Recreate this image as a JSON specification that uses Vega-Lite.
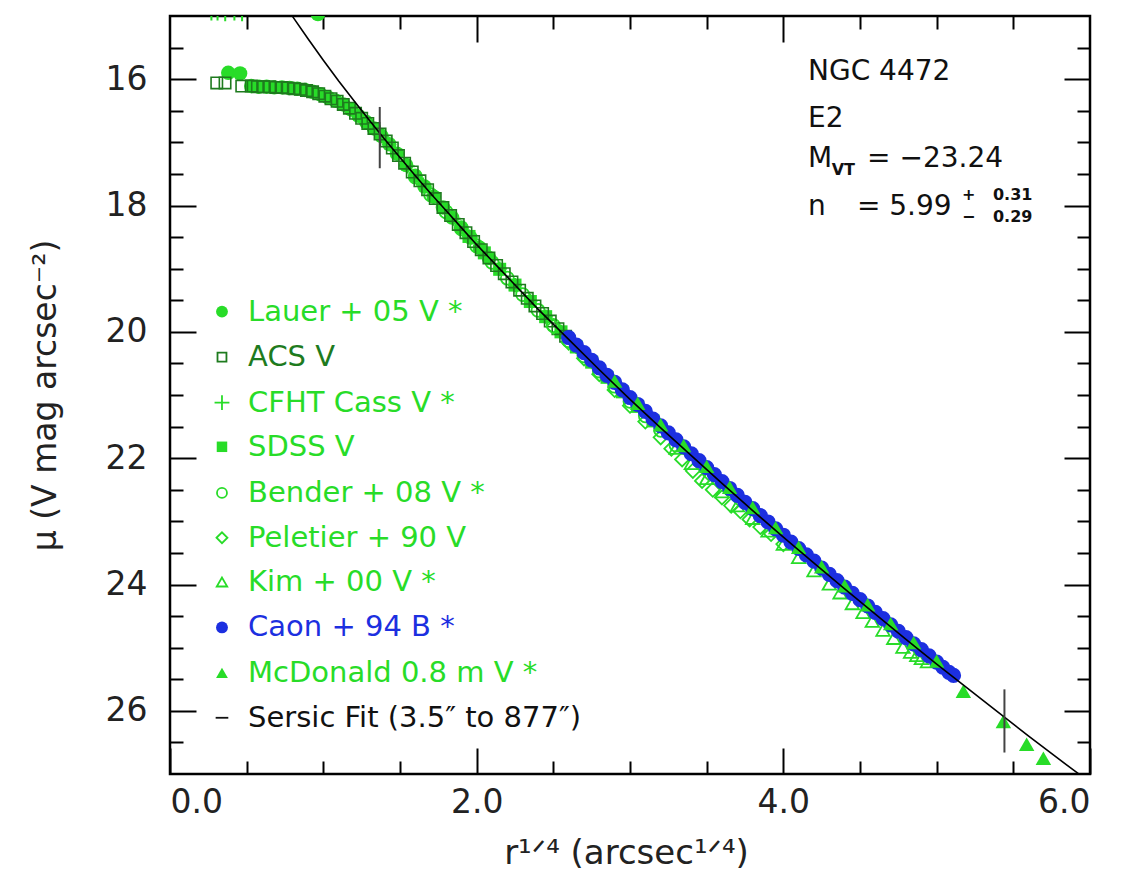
{
  "$schema": "https://vega.github.io/schema/vega-lite/v6.json",
  "width": 920,
  "height": 758,
  "autosize": {"type": "none"},
  "padding": {"left": 170, "top": 16, "right": 35, "bottom": 101},
  "background": "white",
  "config": {
    "view": {"stroke": "black", "strokeWidth": 2.5},
    "axis": {"grid": false, "domain": false, "tickColor": "black", "tickWidth": 2, "tickCap": "butt", "labelFont": "DejaVu Sans", "titleFont": "DejaVu Sans", "labelColor": "#222", "titleColor": "#222", "labelFontSize": 33, "titleFontSize": 30, "titleFontWeight": "normal"},
    "text": {"font": "DejaVu Sans"}
  },
  "datasets": {
    "lauer": [{"x":0.965,"mu":14.97},{"x":0.38,"mu":15.9},{"x":0.457,"mu":15.91},{"x":0.53,"mu":16.11},{"x":0.58,"mu":16.12},{"x":0.63,"mu":16.12},{"x":0.68,"mu":16.13},{"x":0.73,"mu":16.13},{"x":0.78,"mu":16.14},{"x":0.83,"mu":16.15},{"x":0.88,"mu":16.17},{"x":0.93,"mu":16.2},{"x":0.98,"mu":16.24},{"x":1.03,"mu":16.29},{"x":1.08,"mu":16.34},{"x":1.13,"mu":16.4},{"x":1.18,"mu":16.48},{"x":1.23,"mu":16.58},{"x":1.28,"mu":16.68},{"x":1.33,"mu":16.78},{"x":1.38,"mu":16.9},{"x":1.43,"mu":17.03},{"x":1.48,"mu":17.18},{"x":1.54,"mu":17.36},{"x":1.6,"mu":17.53},{"x":1.66,"mu":17.7},{"x":1.72,"mu":17.86},{"x":1.78,"mu":18.03},{"x":1.84,"mu":18.19},{"x":1.9,"mu":18.35},{"x":1.96,"mu":18.51},{"x":2.02,"mu":18.67},{"x":2.08,"mu":18.83}],
    "acs": [{"x":0.305,"mu":16.06},{"x":0.359,"mu":16.06},{"x":0.468,"mu":16.11},{"x":0.53,"mu":16.11},{"x":0.57,"mu":16.12},{"x":0.61,"mu":16.12},{"x":0.65,"mu":16.12},{"x":0.69,"mu":16.13},{"x":0.73,"mu":16.13},{"x":0.77,"mu":16.14},{"x":0.81,"mu":16.15},{"x":0.85,"mu":16.16},{"x":0.89,"mu":16.18},{"x":0.93,"mu":16.2},{"x":0.97,"mu":16.23},{"x":1.01,"mu":16.27},{"x":1.05,"mu":16.31},{"x":1.09,"mu":16.35},{"x":1.13,"mu":16.4},{"x":1.17,"mu":16.46},{"x":1.21,"mu":16.54},{"x":1.25,"mu":16.62},{"x":1.29,"mu":16.7},{"x":1.33,"mu":16.78},{"x":1.37,"mu":16.87},{"x":1.41,"mu":16.98},{"x":1.45,"mu":17.09},{"x":1.49,"mu":17.21},{"x":1.53,"mu":17.33},{"x":1.58,"mu":17.47},{"x":1.63,"mu":17.61},{"x":1.68,"mu":17.75},{"x":1.73,"mu":17.89},{"x":1.78,"mu":18.03},{"x":1.83,"mu":18.16},{"x":1.88,"mu":18.3},{"x":1.93,"mu":18.43},{"x":1.98,"mu":18.57},{"x":2.03,"mu":18.7},{"x":2.08,"mu":18.83},{"x":2.13,"mu":18.95},{"x":2.18,"mu":19.08},{"x":2.23,"mu":19.21},{"x":2.28,"mu":19.34},{"x":2.33,"mu":19.47},{"x":2.38,"mu":19.59},{"x":2.43,"mu":19.71},{"x":2.48,"mu":19.83},{"x":2.53,"mu":19.95},{"x":2.58,"mu":20.07}],
    "cfht": [{"x":0.27,"mu":14.96},{"x":0.31,"mu":14.96},{"x":0.36,"mu":14.97},{"x":0.42,"mu":14.96},{"x":0.47,"mu":14.97},{"x":1.25,"mu":16.62},{"x":1.35,"mu":16.82},{"x":1.45,"mu":17.09},{"x":1.55,"mu":17.38},{"x":1.65,"mu":17.67},{"x":1.75,"mu":17.95},{"x":1.85,"mu":18.21},{"x":1.95,"mu":18.49},{"x":2.05,"mu":18.75},{"x":2.15,"mu":19.0},{"x":2.25,"mu":19.26},{"x":2.35,"mu":19.51},{"x":2.45,"mu":19.76},{"x":2.55,"mu":20.0},{"x":2.65,"mu":20.24},{"x":2.75,"mu":20.48}],
    "sdss": [{"x":1.95,"mu":18.49},{"x":2.05,"mu":18.75},{"x":2.15,"mu":19.01},{"x":2.25,"mu":19.26},{"x":2.35,"mu":19.52},{"x":2.45,"mu":19.76},{"x":2.55,"mu":20.0},{"x":2.65,"mu":20.24},{"x":2.75,"mu":20.48},{"x":2.85,"mu":20.72},{"x":2.95,"mu":20.95},{"x":3.05,"mu":21.18},{"x":3.15,"mu":21.41}],
    "bender": [{"x":1.6,"mu":17.55},{"x":1.7,"mu":17.83},{"x":1.8,"mu":18.1},{"x":1.9,"mu":18.37},{"x":2.0,"mu":18.64},{"x":2.1,"mu":18.9},{"x":2.2,"mu":19.15},{"x":2.3,"mu":19.41},{"x":2.4,"mu":19.66},{"x":2.5,"mu":19.9},{"x":2.6,"mu":20.14},{"x":2.7,"mu":20.38},{"x":2.8,"mu":20.62},{"x":2.9,"mu":20.86},{"x":3.0,"mu":21.1},{"x":3.1,"mu":21.33},{"x":3.2,"mu":21.56},{"x":3.3,"mu":21.79}],
    "peletier": [{"x":2.5,"mu":19.92},{"x":2.6,"mu":20.17},{"x":2.7,"mu":20.42},{"x":2.8,"mu":20.67},{"x":2.9,"mu":20.92},{"x":3.0,"mu":21.17},{"x":3.1,"mu":21.42},{"x":3.2,"mu":21.67},{"x":3.27,"mu":21.85},{"x":3.34,"mu":22.02},{"x":3.41,"mu":22.2},{"x":3.47,"mu":22.36},{"x":3.54,"mu":22.5},{"x":3.6,"mu":22.62},{"x":3.66,"mu":22.75},{"x":3.72,"mu":22.84},{"x":3.78,"mu":22.97},{"x":3.85,"mu":23.09},{"x":3.92,"mu":23.2},{"x":4.0,"mu":23.36}],
    "kim": [{"x":3.3,"mu":21.84},{"x":3.4,"mu":22.08},{"x":3.5,"mu":22.32},{"x":3.6,"mu":22.53},{"x":3.7,"mu":22.75},{"x":3.8,"mu":22.95},{"x":3.9,"mu":23.15},{"x":4.0,"mu":23.36},{"x":4.1,"mu":23.57},{"x":4.2,"mu":23.78},{"x":4.3,"mu":23.99},{"x":4.37,"mu":24.13},{"x":4.45,"mu":24.3},{"x":4.52,"mu":24.44},{"x":4.58,"mu":24.58},{"x":4.65,"mu":24.72},{"x":4.72,"mu":24.85},{"x":4.78,"mu":24.99},{"x":4.83,"mu":25.07},{"x":4.87,"mu":25.12},{"x":4.9,"mu":25.17},{"x":4.94,"mu":25.22}],
    "caon": [{"x":2.6,"mu":20.09},{"x":2.65,"mu":20.21},{"x":2.7,"mu":20.33},{"x":2.75,"mu":20.45},{"x":2.8,"mu":20.57},{"x":2.85,"mu":20.69},{"x":2.9,"mu":20.8},{"x":2.95,"mu":20.92},{"x":3.0,"mu":21.04},{"x":3.05,"mu":21.15},{"x":3.1,"mu":21.26},{"x":3.15,"mu":21.38},{"x":3.2,"mu":21.49},{"x":3.25,"mu":21.6},{"x":3.3,"mu":21.71},{"x":3.35,"mu":21.82},{"x":3.4,"mu":21.93},{"x":3.45,"mu":22.04},{"x":3.5,"mu":22.15},{"x":3.55,"mu":22.26},{"x":3.6,"mu":22.37},{"x":3.65,"mu":22.48},{"x":3.7,"mu":22.59},{"x":3.75,"mu":22.7},{"x":3.8,"mu":22.8},{"x":3.85,"mu":22.91},{"x":3.9,"mu":23.01},{"x":3.95,"mu":23.12},{"x":4.0,"mu":23.22},{"x":4.05,"mu":23.33},{"x":4.1,"mu":23.43},{"x":4.15,"mu":23.53},{"x":4.2,"mu":23.63},{"x":4.25,"mu":23.74},{"x":4.3,"mu":23.84},{"x":4.35,"mu":23.94},{"x":4.4,"mu":24.04},{"x":4.45,"mu":24.14},{"x":4.5,"mu":24.24},{"x":4.55,"mu":24.34},{"x":4.6,"mu":24.44},{"x":4.65,"mu":24.54},{"x":4.7,"mu":24.64},{"x":4.75,"mu":24.74},{"x":4.8,"mu":24.84},{"x":4.85,"mu":24.94},{"x":4.9,"mu":25.03},{"x":4.95,"mu":25.13},{"x":5.0,"mu":25.23},{"x":5.04,"mu":25.31},{"x":5.08,"mu":25.39},{"x":5.11,"mu":25.44}],
    "mcd": [{"x":2.9,"mu":20.78},{"x":3.05,"mu":21.13},{"x":3.2,"mu":21.47},{"x":3.35,"mu":21.8},{"x":3.5,"mu":22.13},{"x":3.65,"mu":22.46},{"x":3.8,"mu":22.78},{"x":3.95,"mu":23.1},{"x":4.1,"mu":23.41},{"x":4.25,"mu":23.72},{"x":4.4,"mu":24.02},{"x":4.55,"mu":24.32},{"x":4.7,"mu":24.62},{"x":4.85,"mu":24.92},{"x":5.0,"mu":25.21},{"x":5.174,"mu":25.69},{"x":5.435,"mu":26.17},{"x":5.587,"mu":26.53},{"x":5.696,"mu":26.75}],
    "fit": [{"x":0.78,"mu":14.94},{"x":0.8,"mu":15.01},{"x":0.9,"mu":15.36},{"x":1.0,"mu":15.7},{"x":1.1,"mu":16.03},{"x":1.2,"mu":16.34},{"x":1.3,"mu":16.65},{"x":1.4,"mu":16.95},{"x":1.5,"mu":17.24},{"x":1.6,"mu":17.53},{"x":1.7,"mu":17.81},{"x":1.8,"mu":18.08},{"x":1.9,"mu":18.35},{"x":2.0,"mu":18.62},{"x":2.2,"mu":19.13},{"x":2.4,"mu":19.64},{"x":2.6,"mu":20.12},{"x":2.8,"mu":20.6},{"x":3.0,"mu":21.07},{"x":3.2,"mu":21.52},{"x":3.4,"mu":21.96},{"x":3.6,"mu":22.4},{"x":3.8,"mu":22.83},{"x":4.0,"mu":23.25},{"x":4.2,"mu":23.66},{"x":4.4,"mu":24.07},{"x":4.6,"mu":24.47},{"x":4.8,"mu":24.87},{"x":5.0,"mu":25.26},{"x":5.2,"mu":25.64},{"x":5.4,"mu":26.02},{"x":5.6,"mu":26.4},{"x":5.8,"mu":26.77},{"x":5.9,"mu":26.95},{"x":5.95,"mu":27.04}],
    "fitmarks": [{"x":1.368,"mu":16.44,"mu2":17.41},{"x":5.442,"mu":25.66,"mu2":26.66}],
    "keyrows": [
      {"key":"Lauer","label":"Lauer + 05 V  *","mu":19.68},
      {"key":"ACS","label":"ACS V","mu":20.4},
      {"key":"CFHT","label":"CFHT Cass V  *","mu":21.12},
      {"key":"SDSS","label":"SDSS V","mu":21.82},
      {"key":"Bender","label":"Bender + 08 V  *","mu":22.55},
      {"key":"Peletier","label":"Peletier + 90 V","mu":23.26},
      {"key":"Kim","label":"Kim + 00 V  *","mu":23.96},
      {"key":"Caon","label":"Caon + 94 B  *","mu":24.68},
      {"key":"McDonald","label":"McDonald 0.8 m V  *","mu":25.4},
      {"key":"Sersic","label":"Sersic Fit (3.5″  to  877″)","mu":26.11}
    ],
    "ann": [{"x":4.161,"mu":16.01,"t":"NGC  4472"},{"x":4.161,"mu":16.76,"t":"E2"},{"x":4.161,"mu":17.39,"t":"M"},{"x":4.546,"mu":17.39,"t":"=  −23.24"},{"x":4.161,"mu":18.15,"t":"n"},{"x":4.48,"mu":18.15,"t":"=  5.99"}],
    "annsmall": [{"x":4.315,"mu":17.52,"t":"VT"},{"x":5.165,"mu":17.91,"t":"+"},{"x":5.367,"mu":17.91,"t":"0.31"},{"x":5.165,"mu":18.26,"t":"−"},{"x":5.367,"mu":18.26,"t":"0.29"}]
  },
  "resolve": {"axis": {"x": "independent", "y": "independent"}},
  "layer": [
    {
      "data": {"name": "lauer"},
      "mark": {"type": "point", "shape": "circle", "filled": true, "color": "#28dc28", "opacity": 1, "size": 210, "clip": true},
      "encoding": {
        "x": {"field": "x", "type": "quantitative", "scale": {"domain": [0, 6], "nice": false, "zero": false}, "axis": {"orient": "top", "values": [2, 4], "labels": false, "tickSize": -26, "title": null}},
        "y": {"field": "mu", "type": "quantitative", "scale": {"domain": [15, 27], "reverse": true, "nice": false, "zero": false}, "axis": {"orient": "right", "values": [16, 18, 20, 22, 24, 26], "labels": false, "tickSize": -26, "title": null}}
      }
    },
    {
      "data": {"name": "cfht"},
      "mark": {"type": "point", "shape": "M-1,0H1M0,-1V1", "filled": false, "color": "#28dc28", "opacity": 1, "size": 200, "strokeWidth": 2, "clip": true},
      "encoding": {
        "x": {"field": "x", "type": "quantitative", "scale": {"domain": [0, 6], "nice": false, "zero": false}, "axis": null},
        "y": {"field": "mu", "type": "quantitative", "scale": {"domain": [15, 27], "reverse": true, "nice": false, "zero": false}, "axis": null}
      }
    },
    {
      "data": {"name": "sdss"},
      "mark": {"type": "point", "shape": "square", "filled": true, "color": "#28dc28", "opacity": 1, "size": 170},
      "encoding": {
        "x": {"field": "x", "type": "quantitative", "scale": {"domain": [0, 6], "nice": false, "zero": false}, "axis": null},
        "y": {"field": "mu", "type": "quantitative", "scale": {"domain": [15, 27], "reverse": true, "nice": false, "zero": false}, "axis": null}
      }
    },
    {
      "data": {"name": "bender"},
      "mark": {"type": "point", "shape": "circle", "filled": false, "color": "#28dc28", "opacity": 1, "size": 170, "strokeWidth": 1.8},
      "encoding": {
        "x": {"field": "x", "type": "quantitative", "scale": {"domain": [0, 6], "nice": false, "zero": false}, "axis": null},
        "y": {"field": "mu", "type": "quantitative", "scale": {"domain": [15, 27], "reverse": true, "nice": false, "zero": false}, "axis": null}
      }
    },
    {
      "data": {"name": "acs"},
      "mark": {"type": "point", "shape": "square", "filled": false, "color": "#1e7b1e", "opacity": 1, "size": 130, "strokeWidth": 1.6},
      "encoding": {
        "x": {"field": "x", "type": "quantitative", "scale": {"domain": [0, 6], "nice": false, "zero": false}, "axis": {"orient": "top", "values": [0.5, 1, 1.5, 2.5, 3, 3.5, 4.5, 5, 5.5], "labels": false, "tickSize": -13, "title": null}},
        "y": {"field": "mu", "type": "quantitative", "scale": {"domain": [15, 27], "reverse": true, "nice": false, "zero": false}, "axis": {"orient": "right", "values": [15.5, 16.5, 17, 17.5, 18.5, 19, 19.5, 20.5, 21, 21.5, 22.5, 23, 23.5, 24.5, 25, 25.5, 26.5], "labels": false, "tickSize": -13, "title": null}}
      }
    },
    {
      "data": {"name": "peletier"},
      "mark": {"type": "point", "shape": "diamond", "filled": false, "color": "#28dc28", "opacity": 1, "size": 200, "strokeWidth": 1.8},
      "encoding": {
        "x": {"field": "x", "type": "quantitative", "scale": {"domain": [0, 6], "nice": false, "zero": false}, "axis": null},
        "y": {"field": "mu", "type": "quantitative", "scale": {"domain": [15, 27], "reverse": true, "nice": false, "zero": false}, "axis": null}
      }
    },
    {
      "data": {"name": "kim"},
      "mark": {"type": "point", "shape": "triangle-up", "filled": false, "color": "#28dc28", "opacity": 1, "size": 180, "strokeWidth": 1.8},
      "encoding": {
        "x": {"field": "x", "type": "quantitative", "scale": {"domain": [0, 6], "nice": false, "zero": false}, "axis": null},
        "y": {"field": "mu", "type": "quantitative", "scale": {"domain": [15, 27], "reverse": true, "nice": false, "zero": false}, "axis": null}
      }
    },
    {
      "data": {"name": "caon"},
      "mark": {"type": "point", "shape": "circle", "filled": true, "color": "#1c2fe0", "opacity": 1, "size": 230},
      "encoding": {
        "x": {"field": "x", "type": "quantitative", "scale": {"domain": [0, 6], "nice": false, "zero": false}, "axis": null},
        "y": {"field": "mu", "type": "quantitative", "scale": {"domain": [15, 27], "reverse": true, "nice": false, "zero": false}, "axis": null}
      }
    },
    {
      "data": {"name": "mcd"},
      "mark": {"type": "point", "shape": "triangle-up", "filled": true, "color": "#28dc28", "opacity": 1, "size": 240},
      "encoding": {
        "x": {"field": "x", "type": "quantitative", "scale": {"domain": [0, 6], "nice": false, "zero": false}, "axis": null},
        "y": {"field": "mu", "type": "quantitative", "scale": {"domain": [15, 27], "reverse": true, "nice": false, "zero": false}, "axis": null}
      }
    },
    {
      "data": {"name": "fit"},
      "mark": {"type": "line", "color": "black", "strokeWidth": 1.6, "clip": true},
      "encoding": {
        "x": {"field": "x", "type": "quantitative", "scale": {"domain": [0, 6], "nice": false, "zero": false}, "axis": {"orient": "bottom", "values": [0, 2, 4, 6], "format": ".1f", "tickSize": -26, "labelPadding": 38, "title": "r¹ᐟ⁴  (arcsec¹ᐟ⁴)", "titleX": 456, "titleY": 89, "titleBaseline": "alphabetic", "titleFontSize": 34}},
        "y": {"field": "mu", "type": "quantitative", "scale": {"domain": [15, 27], "reverse": true, "nice": false, "zero": false}, "axis": {"orient": "left", "values": [16, 18, 20, 22, 24, 26], "tickSize": -26, "labelPadding": 49, "title": "μ (V mag arcsec⁻²)", "titleX": -115, "titleY": 379, "titleAngle": -90, "titleBaseline": "alphabetic", "titleFontSize": 33}}
      }
    },
    {
      "data": {"name": "fitmarks"},
      "mark": {"type": "rule", "color": "#444", "strokeWidth": 2},
      "encoding": {
        "x": {"field": "x", "type": "quantitative", "scale": {"domain": [0, 6], "nice": false, "zero": false}, "axis": {"orient": "bottom", "values": [0.5, 1, 1.5, 2.5, 3, 3.5, 4.5, 5, 5.5], "labels": false, "tickSize": -13, "title": null}},
        "y": {"field": "mu", "type": "quantitative", "scale": {"domain": [15, 27], "reverse": true, "nice": false, "zero": false}, "axis": {"orient": "left", "values": [15.5, 16.5, 17, 17.5, 18.5, 19, 19.5, 20.5, 21, 21.5, 22.5, 23, 23.5, 24.5, 25, 25.5, 26.5], "labels": false, "tickSize": -13, "title": null}},
        "y2": {"field": "mu2"}
      }
    },
    {
      "data": {"name": "keyrows"},
      "transform": [{"filter": {"field": "key", "oneOf": ["Lauer", "SDSS", "Caon", "McDonald"]}}],
      "mark": {"type": "point", "filled": true, "opacity": 1},
      "encoding": {
        "x": {"datum": 0.339, "type": "quantitative", "scale": {"domain": [0, 6], "nice": false, "zero": false}, "axis": null},
        "y": {"field": "mu", "type": "quantitative", "scale": {"domain": [15, 27], "reverse": true, "nice": false, "zero": false}, "axis": null},
        "shape": {"field": "key", "type": "nominal", "legend": null, "scale": {"domain": ["Lauer","ACS","CFHT","SDSS","Bender","Peletier","Kim","Caon","McDonald","Sersic"], "range": ["circle","square","M-1,0H1M0,-1V1","square","circle","diamond","triangle-up","circle","triangle-up","stroke"]}},
        "size": {"field": "key", "type": "nominal", "legend": null, "scale": {"type": "ordinal", "domain": ["Lauer","ACS","CFHT","SDSS","Bender","Peletier","Kim","Caon","McDonald","Sersic"], "range": [140, 80, 220, 110, 100, 120, 110, 140, 140, 160]}},
        "color": {"field": "key", "type": "nominal", "legend": null, "scale": {"domain": ["Lauer","ACS","CFHT","SDSS","Bender","Peletier","Kim","Caon","McDonald","Sersic"], "range": ["#28dc28","#1e7b1e","#28dc28","#28dc28","#28dc28","#28dc28","#28dc28","#1c2fe0","#28dc28","#111111"]}}
      }
    },
    {
      "data": {"name": "keyrows"},
      "transform": [{"filter": {"field": "key", "oneOf": ["ACS", "CFHT", "Bender", "Peletier", "Kim", "Sersic"]}}],
      "mark": {"type": "point", "filled": false, "opacity": 1, "strokeWidth": 1.8},
      "encoding": {
        "x": {"datum": 0.339, "type": "quantitative", "scale": {"domain": [0, 6], "nice": false, "zero": false}, "axis": null},
        "y": {"field": "mu", "type": "quantitative", "scale": {"domain": [15, 27], "reverse": true, "nice": false, "zero": false}, "axis": null},
        "shape": {"field": "key", "type": "nominal", "legend": null, "scale": {"domain": ["Lauer","ACS","CFHT","SDSS","Bender","Peletier","Kim","Caon","McDonald","Sersic"], "range": ["circle","square","M-1,0H1M0,-1V1","square","circle","diamond","triangle-up","circle","triangle-up","stroke"]}},
        "size": {"field": "key", "type": "nominal", "legend": null, "scale": {"type": "ordinal", "domain": ["Lauer","ACS","CFHT","SDSS","Bender","Peletier","Kim","Caon","McDonald","Sersic"], "range": [140, 80, 220, 110, 100, 120, 110, 140, 140, 160]}},
        "color": {"field": "key", "type": "nominal", "legend": null, "scale": {"domain": ["Lauer","ACS","CFHT","SDSS","Bender","Peletier","Kim","Caon","McDonald","Sersic"], "range": ["#28dc28","#1e7b1e","#28dc28","#28dc28","#28dc28","#28dc28","#28dc28","#1c2fe0","#28dc28","#111111"]}}
      }
    },
    {
      "data": {"name": "keyrows"},
      "mark": {"type": "text", "align": "left", "baseline": "middle", "fontSize": 29, "font": "DejaVu Sans"},
      "encoding": {
        "x": {"datum": 0.509, "type": "quantitative", "scale": {"domain": [0, 6], "nice": false, "zero": false}, "axis": null},
        "y": {"field": "mu", "type": "quantitative", "scale": {"domain": [15, 27], "reverse": true, "nice": false, "zero": false}, "axis": null},
        "text": {"field": "label"},
        "color": {"field": "key", "type": "nominal", "legend": null, "scale": {"domain": ["Lauer","ACS","CFHT","SDSS","Bender","Peletier","Kim","Caon","McDonald","Sersic"], "range": ["#28dc28","#1e7b1e","#28dc28","#28dc28","#28dc28","#28dc28","#28dc28","#1c2fe0","#28dc28","#111111"]}}
      }
    },
    {
      "data": {"name": "ann"},
      "mark": {"type": "text", "align": "left", "baseline": "alphabetic", "fontSize": 28, "font": "DejaVu Sans", "color": "#111"},
      "encoding": {
        "x": {"field": "x", "type": "quantitative", "scale": {"domain": [0, 6], "nice": false, "zero": false}, "axis": null},
        "y": {"field": "mu", "type": "quantitative", "scale": {"domain": [15, 27], "reverse": true, "nice": false, "zero": false}, "axis": null},
        "text": {"field": "t"}
      }
    },
    {
      "data": {"name": "annsmall"},
      "mark": {"type": "text", "align": "left", "baseline": "alphabetic", "fontSize": 16, "fontWeight": "bold", "font": "DejaVu Sans", "color": "#111"},
      "encoding": {
        "x": {"field": "x", "type": "quantitative", "scale": {"domain": [0, 6], "nice": false, "zero": false}, "axis": null},
        "y": {"field": "mu", "type": "quantitative", "scale": {"domain": [15, 27], "reverse": true, "nice": false, "zero": false}, "axis": null},
        "text": {"field": "t"}
      }
    }
  ]
}
